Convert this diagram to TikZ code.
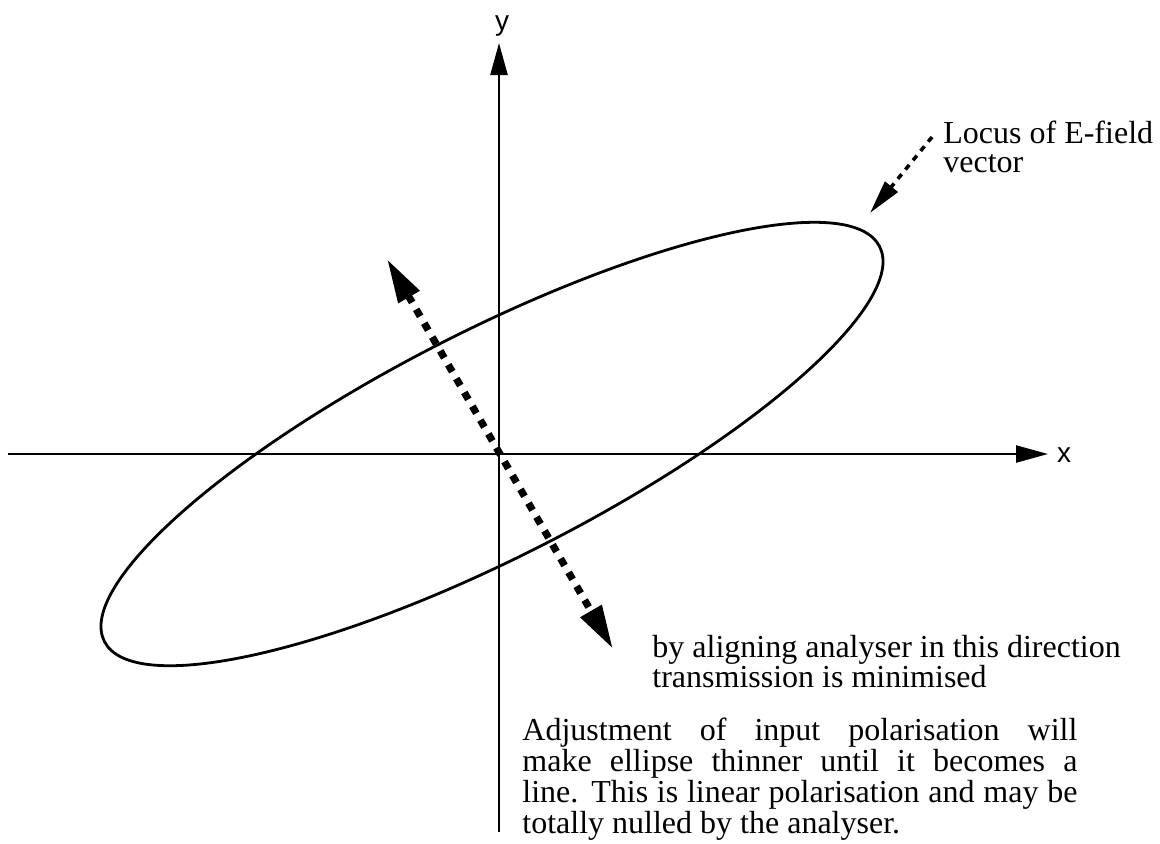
\documentclass[tikz,border=0pt]{standalone}
\usepackage{fontspec}
\setmainfont{Liberation Serif}
\newfontfamily\axisfont{Liberation Sans}
\usetikzlibrary{arrows.meta}

\begin{document}
\begin{tikzpicture}[
        x=0.5pt, y=-0.5pt,
        axis/.style={line width=1.2pt, -{Triangle[length=16pt,width=8.5pt]}},
        locus/.style={line width=1.4pt},
        nullarrow/.style={
            line width=3.6pt,
            dash pattern=on 4pt off 4pt,
            {Triangle[length=22pt,width=11.5pt]}-{Triangle[length=22pt,width=11.5pt]}
        },
        pointer/.style={
            line width=1.8pt,
            dash pattern=on 3pt off 3pt,
            -{Triangle[length=17pt,width=8pt]}
        },
        every node/.style={
            inner sep=0pt,
            font=\fontsize{16pt}{14pt}\selectfont
        },
        axislabel/.style={font=\axisfont\fontsize{14pt}{14pt}\selectfont}
    ]

    \useasboundingbox (0,0) rectangle (1160,843);

    % Ejes
    \coordinate (xl) at (8,454);
    \coordinate (xr) at (1048,454);
    \coordinate (yb) at (499,832);
    \coordinate (yt) at (499,43);
    \node[axislabel] (xlab) at (1064,455) {x};
    \node[axislabel] (ylab) at (502,26)  {y};
    \draw[axis] (xl) -- (xr);
    \draw[axis] (yb) -- (yt);

    % Elipse
    \draw[locus, rotate around={27:(492,444)}] (492,444) ellipse [x radius=435, y radius=113];

    % Analizador
    \coordinate (nullup)   at (387,259);
    \coordinate (nulldown) at (613,649);
    \draw[nullarrow] (nullup) -- (nulldown);

    % Textos
    \node[anchor=base west, align=left, font=\fontsize{16pt}{14.5pt}\selectfont] (locustext) at (943,172)
        {Locus of E-field\\vector};
    \coordinate (locusfrom) at (932,137);
    \coordinate (locusto)   at (870,213);
    \draw[pointer] (locusfrom) -- (locusto);

    \node[anchor=base west, align=left, font=\fontsize{16pt}{15pt}\selectfont] (aligning) at (652,687)
        {by aligning analyser in this direction\\transmission is minimised};

    \node[anchor=base west, text width=277.5pt, align=justify] (adjust) at (522,740)
        {Adjustment of input polarisation will\linebreak
         make ellipse thinner until it becomes a\linebreak
         line. This is linear polarisation and may be\linebreak
         totally nulled by the analyser.};

\end{tikzpicture}
\end{document}
